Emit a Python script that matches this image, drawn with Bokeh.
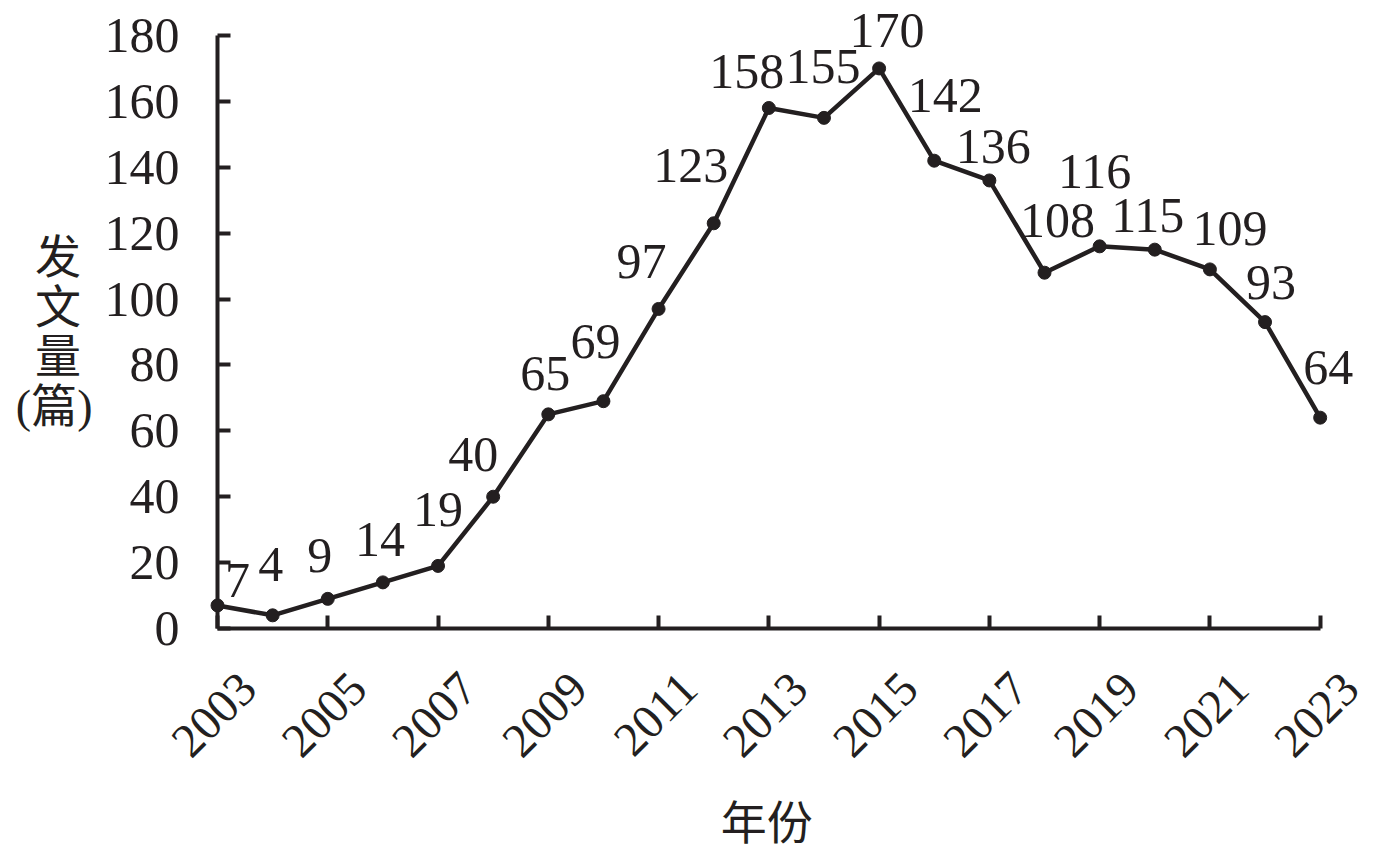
import math
from bokeh.plotting import figure
from bokeh.models import ColumnDataSource, FixedTicker, Range1d, LinearAxis
from bokeh.core.properties import value
from bokeh.embed import file_html
from bokeh.resources import INLINE

# ---- data ----
years = list(range(2003, 2024))
counts = [7, 4, 9, 14, 19, 40, 65, 69, 97, 123, 158, 155, 170, 142, 136, 108, 116, 115, 109, 93, 64]
x_ticks = list(range(2003, 2024, 2))
y_ticks = list(range(0, 181, 20))
y_label = "发 \n文 \n量 \n(篇)"
x_label = "年份"

# ---- label placement (screen px, style only) ----
label_dx = [20, -2, -8, -3, 0, -20, -3, -8, -17, -23, -22, -1, 8, 11, 4, 13, -5, -7, 20, 6, 8]
label_dy = [9, 35, 27, 27, 40, 26, 25, 44, 31, 42, 20, 35, 22, 49, 18, 36, 59, 18, 25, 24, 34]
LABEL_LIFT = 16
SHIFT = 0.55  # years: rotated tick labels sit centred under their ticks

INK = "#231f20"
SERIF = "'Liberation Serif'"
CJK = "'Liberation Serif', 'Noto Sans CJK SC'"

x0, x1 = years[0], years[-1]
p = figure(frame_width=1133, frame_height=593,
           x_range=Range1d(x0, x1 + SHIFT), y_range=Range1d(0, 180),
           output_backend="svg", toolbar_location=None,
           min_border_left=217, min_border_top=35, min_border_right=20, min_border_bottom=224)
p.outline_line_color = None
p.grid.visible = False
p.background_fill_color = "white"
p.border_fill_color = "white"

p.extra_x_ranges = {"lab": Range1d(x0 - SHIFT, x1)}
lab_axis = LinearAxis(x_range_name="lab")
p.add_layout(lab_axis, "below")

for ax in (p.xaxis[0], p.yaxis[0]):
    ax.axis_line_color = INK
    ax.axis_line_width = 4
    ax.major_tick_line_color = INK
    ax.major_tick_line_width = 4
    ax.major_tick_in = 13
    ax.major_tick_out = 0
    ax.minor_tick_line_color = None
    ax.major_label_text_font = SERIF
    ax.major_label_text_color = INK

main_x = p.xaxis[0]
main_x.bounds = (x0, x1)
main_x.ticker = FixedTicker(ticks=x_ticks, minor_ticks=[])
main_x.major_label_overrides = {t: "" for t in x_ticks}
main_x.major_label_text_font_size = "1px"
main_x.major_label_standoff = 0

lab_axis.ticker = FixedTicker(ticks=x_ticks, minor_ticks=[])
lab_axis.axis_line_color = None
lab_axis.major_tick_line_color = None
lab_axis.minor_tick_line_color = None
lab_axis.major_tick_in = 0
lab_axis.major_tick_out = 0
lab_axis.major_label_orientation = math.pi / 4
lab_axis.major_label_text_font = SERIF
lab_axis.major_label_text_color = INK
lab_axis.major_label_text_font_size = "48px"
lab_axis.major_label_standoff = 52
# trailing spaces re-centre the title under the axis line (frame is a bit wider)
lab_axis.axis_label = x_label + "   "
lab_axis.axis_label_text_font = CJK
lab_axis.axis_label_text_font_style = "normal"
lab_axis.axis_label_text_color = INK
lab_axis.axis_label_text_font_size = "46px"
lab_axis.axis_label_standoff = 24

p.yaxis.ticker = FixedTicker(ticks=y_ticks, minor_ticks=[])
p.yaxis.major_label_text_font_size = "50px"
p.yaxis.major_label_standoff = 38
p.yaxis.axis_label = y_label
p.yaxis.axis_label_orientation = "horizontal"
p.yaxis.axis_label_text_font = CJK
p.yaxis.axis_label_text_font_style = "normal"
p.yaxis.axis_label_text_color = INK
p.yaxis.axis_label_text_font_size = "46px"
p.yaxis.axis_label_text_line_height = 0.98
p.yaxis.axis_label_standoff = 9

src = ColumnDataSource(dict(x=years, y=counts, text=[str(c) for c in counts],
                            dx=label_dx, dy=[-(d + LABEL_LIFT) for d in label_dy]))
ln = p.line("x", "y", source=src, line_width=4.5, line_color=INK)
sc = p.scatter("x", "y", source=src, size=13, fill_color=INK, line_color=INK)
tx = p.text("x", "y", text="text", source=src, x_offset="dx", y_offset="dy",
            text_align="center", text_baseline="alphabetic",
            text_font=value("Liberation Serif"), text_font_size="50px", text_color=INK)
for r in (ln, sc, tx):
    r.level = "overlay"

open("out.html", "w").write(file_html(p, INLINE))
